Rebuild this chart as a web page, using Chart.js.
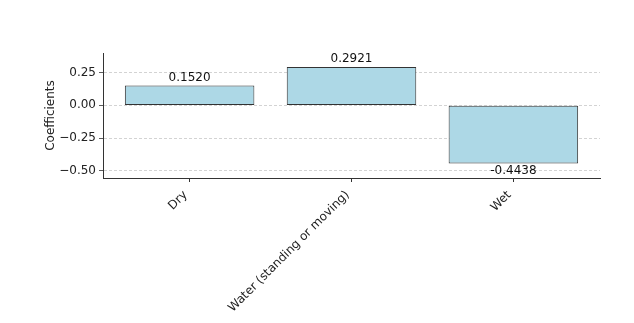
<!DOCTYPE html>
<html>
<head>
<meta charset="utf-8">
<script src="https://cdn.jsdelivr.net/npm/chart.js@4/dist/chart.umd.min.js"></script>
<style>
    html, body { margin: 0; padding: 0; background: #fff; }
    #wrap { width: 634px; height: 323px; }
</style>
</head>
<body>
<div id="wrap"><canvas id="coefChart" width="634" height="323"></canvas></div>
<script>
const categories = ["Dry", "Water (standing or moving)", "Wet"];
const coefficients = [0.1520, 0.2921, -0.4438];
const yTicks = [-0.5, -0.25, 0, 0.25];

Chart.defaults.font.family = "'DejaVu Sans', sans-serif";
Chart.defaults.font.size = 12;
Chart.defaults.color = "#222";

// value labels above / below each bar
const barLabels = {
    id: "barLabels",
    afterDatasetsDraw(chart) {
        const ctx = chart.ctx;
        const meta = chart.getDatasetMeta(0);
        ctx.save();
        ctx.font = "12px 'DejaVu Sans', sans-serif";
        ctx.fillStyle = "#111";
        ctx.textAlign = "center";
        meta.data.forEach((bar, i) => {
            const v = coefficients[i];
            if (v >= 0) {
                ctx.textBaseline = "bottom";
                ctx.fillText(v.toFixed(4), bar.x, bar.y - 2);
            } else {
                ctx.textBaseline = "top";
                ctx.fillText(v.toFixed(4), bar.x, bar.y + 1);
            }
        });
        ctx.restore();
    },
};

new Chart(document.getElementById("coefChart").getContext("2d"), {
    type: "bar",
    data: {
        datasets: [
            {
                data: coefficients.map((v, i) => ({ x: i, y: v })),
                backgroundColor: "#ADD8E6",
                borderColor: "#333333",
                borderWidth: 1,
                borderSkipped: false,
                barPercentage: 0.8,
                categoryPercentage: 1.0,
            },
        ],
    },
    options: {
        responsive: false,
        animation: false,
        layout: { padding: { top: 53, right: 34, left: 0, bottom: 0 } },
        plugins: { legend: { display: false }, tooltip: { enabled: false } },
        scales: {
            x: {
                type: "linear",
                offset: false,
                min: -0.535,
                max: 2.535,
                afterBuildTicks: (scale) => {
                    scale.ticks = categories.map((c, i) => ({ value: i }));
                },
                afterFit: (scale) => {
                    scale.height = 145;
                },
                ticks: {
                    autoSkip: false,
                    minRotation: 45,
                    maxRotation: 45,
                    padding: 6,
                    labelOffset: -4,
                    color: "#222",
                    callback: (value) => categories[value],
                },
                grid: {
                    offset: false,
                    drawOnChartArea: false,
                    drawTicks: true,
                    tickLength: 4,
                    tickColor: "#333",
                },
                border: { color: "#333", width: 1 },
            },
            y: {
                min: -0.555,
                max: 0.4,
                afterBuildTicks: (scale) => {
                    scale.ticks = yTicks.map((v) => ({ value: v }));
                },
                afterFit: (scale) => {
                    scale.width = 103;
                },
                ticks: {
                    padding: 3,
                    color: "#222",
                    callback: (value) => value.toFixed(2).replace("-", "\u2212"),
                },
                grid: {
                    color: "#c8c8c8",
                    lineWidth: 0.8,
                    drawTicks: true,
                    tickLength: 4,
                    tickColor: "#333",
                    tickBorderDash: [],
                },
                border: { color: "#333", width: 1, dash: [3, 2] },
                title: {
                    display: true,
                    text: "Coefficients",
                    color: "#222",
                    font: { size: 12 },
                    padding: { top: 44, bottom: 0 },
                },
            },
        },
    },
    plugins: [barLabels],
});
</script>
</body>
</html>
